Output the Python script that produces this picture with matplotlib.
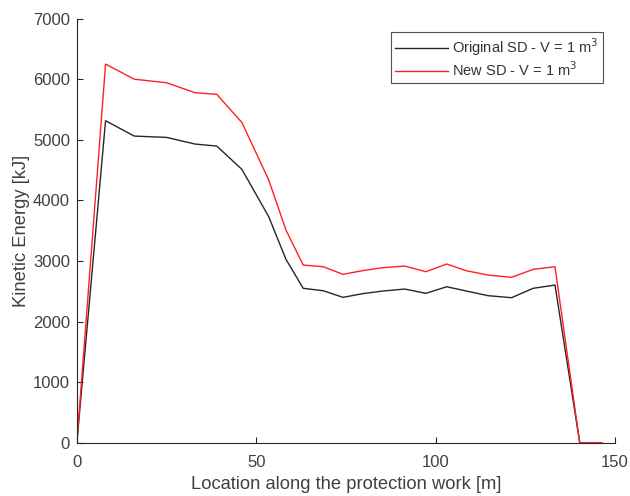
import matplotlib
matplotlib.use("Agg")
import matplotlib.pyplot as plt

plt.rcParams['font.family'] = ['Liberation Sans', 'DejaVu Sans']

location = [0, 8, 16, 25, 33, 39, 46, 53.5, 58.3, 63.1, 68.7, 74.2, 79.7, 85.3,
            91.4, 97.3, 103.1, 108.6, 114.7, 121.2, 127.2, 133.3, 140.2, 146.3]
original_sd = [0, 5314, 5061, 5039, 4929, 4896, 4512, 3729, 3026, 2548, 2508, 2399, 2460, 2503,
               2536, 2465, 2574, 2503, 2426, 2393, 2548, 2602, 0, 0]
new_sd = [0, 6249, 6000, 5941, 5776, 5750, 5287, 4335, 3510, 2932, 2904, 2779, 2840, 2888,
          2916, 2822, 2949, 2838, 2767, 2729, 2861, 2904, 0, 0]

xticks = [0, 50, 100, 150]
yticks = [0, 1000, 2000, 3000, 4000, 5000, 6000, 7000]

fig = plt.figure(figsize=(6.3, 4.96), dpi=100)
ax = fig.add_axes([0.122, 0.1075, 0.854, 0.855])

ax.plot(location, original_sd, color='#262626', lw=1.0, label='Original SD - V = 1 m$^3$')
ax.plot(location, new_sd, color='#ff2020', lw=1.0, label='New SD - V = 1 m$^3$')

ax.set_xlim(0, 150)
ax.set_ylim(0, 7000)
ax.set_xticks(xticks)
ax.set_yticks(yticks)

tc = '#404040'
for s in ['top', 'right']:
    ax.spines[s].set_visible(False)
for s in ['left', 'bottom']:
    ax.spines[s].set_color('#262626')
    ax.spines[s].set_linewidth(0.8)
ax.tick_params(direction='in', length=4, width=0.8, colors='#262626', labelcolor=tc, labelsize=12)
ax.tick_params(axis='x', pad=9)
ax.tick_params(axis='y', pad=5)

ax.set_xlabel('Location along the protection work [m]', fontsize=13.2, color=tc, labelpad=4.5)
ax.set_ylabel('Kinetic Energy [kJ]', fontsize=13.2, color=tc, labelpad=2)

leg = ax.legend(loc='upper right', bbox_to_anchor=(0.978, 0.969), borderaxespad=0,
                fontsize=10.5, frameon=True, fancybox=False, edgecolor='#262626',
                handlelength=3.6, handletextpad=0.3, borderpad=0.3, labelspacing=0.15)
leg.get_frame().set_linewidth(0.8)
for t in leg.get_texts():
    t.set_color('#333333')

fig.savefig('out.png', dpi=100)
